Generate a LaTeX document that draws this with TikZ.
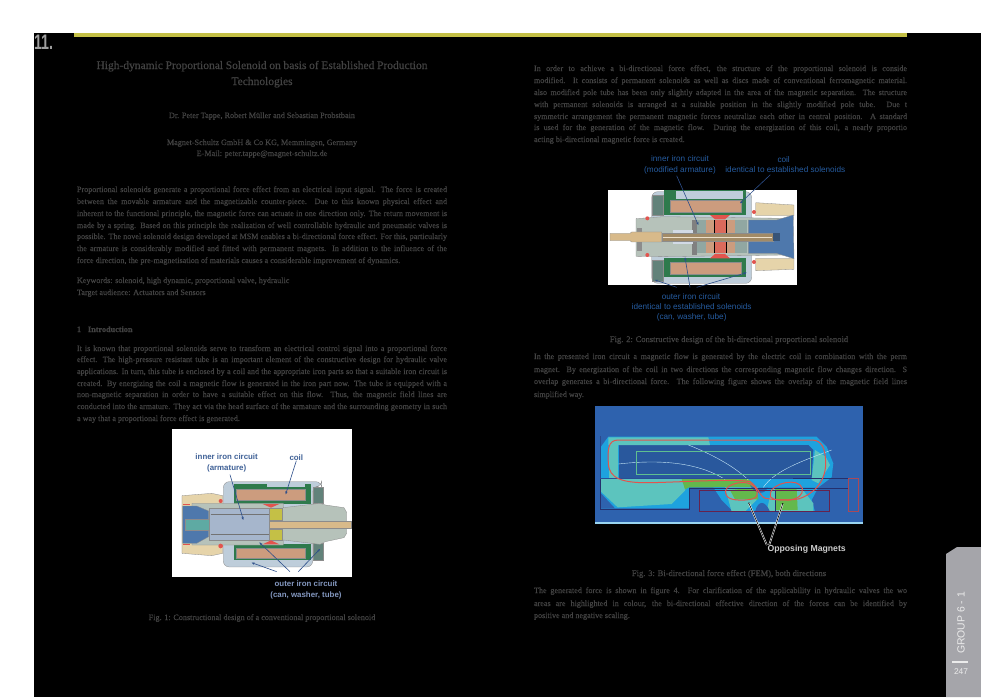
\documentclass[tikz,border=0pt]{standalone}
\usepackage{tikz}
\usepackage{xcolor}
\usepackage{fontspec}
\setmainfont[FakeBold=0.45]{Liberation Serif}
\setsansfont{Liberation Sans}
\usetikzlibrary{positioning,arrows.meta}

\definecolor{inkColor}{RGB}{66,66,66}
\definecolor{barColor}{RGB}{196,192,70}
\definecolor{tabColor}{RGB}{165,165,170}
\definecolor{markColor}{RGB}{158,158,158}
\definecolor{labelColor}{RGB}{62,96,150}
\definecolor{outerColor}{RGB}{132,152,192}
\definecolor{leaderColor}{RGB}{44,78,138}
\definecolor{blueColor}{RGB}{38,92,160}
\definecolor{canColor}{RGB}{190,205,218}
\definecolor{washerColor}{RGB}{98,130,122}
\definecolor{holderColor}{RGB}{46,122,76}
\definecolor{copperColor}{RGB}{204,156,126}
\definecolor{tubeColor}{RGB}{182,194,186}
\definecolor{shaftColor}{RGB}{216,186,138}
\definecolor{armatureColor}{RGB}{166,182,204}
\definecolor{brassColor}{RGB}{230,212,170}
\definecolor{plugColor}{RGB}{78,120,172}
\definecolor{sealColor}{RGB}{226,84,78}
\definecolor{fieldColor}{RGB}{46,98,174}
\definecolor{cyanColor}{RGB}{30,162,222}
\definecolor{tealColor}{RGB}{92,196,190}
\definecolor{greenColor}{RGB}{100,184,76}
\definecolor{navyColor}{RGB}{36,48,110}

\tikzset{
  bodytext/.style={text=inkColor,anchor=base west,inner sep=0pt,outer sep=0pt,font=\fontsize{8.1}{9}\selectfont},
  midtext/.style={text=inkColor,anchor=base,inner sep=0pt,outer sep=0pt,font=\fontsize{8.15}{9}\selectfont},
  captext/.style={text=inkColor,anchor=base,inner sep=0pt,outer sep=0pt,font=\fontsize{8.5}{9}\selectfont},
  titletext/.style={text=inkColor,anchor=base,inner sep=0pt,outer sep=0pt,font=\fontsize{11.5}{13}\selectfont},
  fig1label/.style={text=labelColor,anchor=base,inner sep=0pt,outer sep=0pt,font=\sffamily\bfseries\fontsize{7.9}{9}\selectfont},
  fig1outer/.style={text=outerColor,anchor=base,inner sep=0pt,outer sep=0pt,font=\sffamily\bfseries\fontsize{7.9}{9}\selectfont},
  fig2label/.style={text=blueColor,anchor=base,inner sep=0pt,outer sep=0pt,font=\sffamily\fontsize{8.2}{9}\selectfont},
  leader/.style={draw=leaderColor,line width=0.6pt,-{Stealth[length=3pt,width=2.4pt]}},
  partfill/.style={line width=0.3pt,draw=black!45},
  magline/.style={draw=white,double=black,line width=0.5pt,double distance=0.6pt},
}
% one justified text line
\newcommand{\bodyline}[4]{\node[bodytext] (#1) at (77,#2) {\makebox[#3][s]{#4}};}
\newcommand{\colline}[4]{\node[bodytext] (#1) at (534,#2) {\makebox[#3][s]{#4}};}

\begin{document}
\begin{tikzpicture}[x=1pt,y=-1pt]
\path[use as bounding box,fill=white] (0,0) rectangle (981,697);
\path[fill=black] (34,33) rectangle (981,697);
\path[fill=barColor] (74,33) rectangle (907,37);
\path[fill=tabColor] (946,697) -- (946,554) -- (957,547) -- (981,547) -- (981,697) -- cycle;
\path[draw=black!8,line width=1.2pt] (952,662) -- (968,662);

\node[text=markColor,anchor=base west,inner sep=0pt,outer sep=0pt,font=\sffamily\bfseries\fontsize{21}{22}\selectfont] (chapter) at (34,49) {\scalebox{0.68}[1]{11.}};
\node[text=black!8,rotate=90,anchor=center,inner sep=0pt,outer sep=0pt,font=\sffamily\fontsize{10.4}{11}\selectfont] (group) at (961,623) {GROUP 6 - 1};
\node[text=black!8,anchor=base,inner sep=0pt,outer sep=0pt,font=\sffamily\fontsize{8.4}{10}\selectfont] (pageno) at (961,674) {247};

% left column
\node[titletext] (title1) at (262,69) {\makebox[331pt][s]{High-dynamic Proportional Solenoid on basis of Established Production}};
\node[titletext] (title2) at (262,85) {Technologies};
\node[midtext] (authors) at (262,118) {Dr. Peter Tappe, Robert Müller and Sebastian Probstbain};
\node[midtext] (company) at (262,145) {Magnet-Schultz GmbH \& Co KG, Memmingen, Germany};
\node[midtext] (email) at (262,156) {E-Mail: peter.tappe@magnet-schultz.de};

\bodyline{abs1}{192}{370pt}{Proportional solenoids generate a proportional force effect from an electrical input signal. The force is created}
\bodyline{abs2}{204}{370pt}{between the movable armature and the magnetizable counter-piece. Due to this known physical effect and}
\bodyline{abs3}{216}{370pt}{inherent to the functional principle, the magnetic force can actuate in one direction only. The return movement is}
\bodyline{abs4}{228}{370pt}{made by a spring. Based on this principle the realization of well controllable hydraulic and pneumatic valves is}
\bodyline{abs5}{239}{370pt}{possible. The novel solenoid design developed at MSM enables a bi-directional force effect. For this, particularly}
\bodyline{abs6}{251}{370pt}{the armature is considerably modified and fitted with permanent magnets. In addition to the influence of the}
\node[bodytext] (abs7) at (77,263) {force direction, the pre-magnetisation of materials causes a considerable improvement of dynamics.};
\node[bodytext] (keywords) at (77,283) {Keywords: solenoid, high dynamic, proportional valve, hydraulic};
\node[bodytext] (audience) at (77,295) {Target audience: Actuators and Sensors};

\node[bodytext,font=\bfseries\fontsize{8.2}{9}\selectfont] (intronum) at (77,332) {1};
\node[bodytext,font=\bfseries\fontsize{8.2}{9}\selectfont] (intro) at (88,332) {Introduction};
\bodyline{int1}{351}{370pt}{It is known that proportional solenoids serve to transform an electrical control signal into a proportional force}
\bodyline{int2}{362}{370pt}{effect. The high-pressure resistant tube is an important element of the constructive design for hydraulic valve}
\bodyline{int3}{374}{370pt}{applications. In turn, this tube is enclosed by a coil and the appropriate iron parts so that a suitable iron circuit is}
\bodyline{int4}{386}{370pt}{created. By energizing the coil a magnetic flow is generated in the iron part now. The tube is equipped with a}
\bodyline{int5}{397}{370pt}{non-magnetic separation in order to have a suitable effect on this flow. Thus, the magnetic field lines are}
\bodyline{int6}{409}{370pt}{conducted into the armature. They act via the head surface of the armature and the surrounding geometry in such}
\node[bodytext] (int7) at (77,421) {a way that a proportional force effect is generated.};
\node[midtext] (cap1) at (262,620) {Fig. 1: Constructional design of a conventional proportional solenoid};

% right column
\colline{rt1}{71}{373pt}{In order to achieve a bi-directional force effect, the structure of the proportional solenoid is conside}
\colline{rt2}{83}{373pt}{modified. It consists of permanent solenoids as well as discs made of conventional ferromagnetic material.}
\colline{rt3}{95}{373pt}{also modified pole tube has been only slightly adapted in the area of the magnetic separation. The structure}
\colline{rt4}{107}{373pt}{with permanent solenoids is arranged at a suitable position in the slightly modified pole tube. Due t}
\colline{rt5}{119}{373pt}{symmetric arrangement the permanent magnetic forces neutralize each other in central position. A standard}
\colline{rt6}{130}{373pt}{is used for the generation of the magnetic flow. During the energization of this coil, a nearly proportio}
\node[bodytext] (rt7) at (534,142) {acting bi-directional magnetic force is created.};
\node[captext] (cap2) at (729,342) {Fig. 2: Constructive design of the bi-directional proportional solenoid};
\colline{rm1}{359}{373pt}{In the presented iron circuit a magnetic flow is generated by the electric coil in combination with the perm}
\colline{rm2}{372}{373pt}{magnet. By energization of the coil in two directions the corresponding magnetic flow changes direction. S}
\colline{rm3}{384}{373pt}{overlap generates a bi-directional force. The following figure shows the overlap of the magnetic field lines}
\node[bodytext] (rm4) at (534,397) {simplified way.};
\node[captext] (cap3) at (729,576) {Fig. 3: Bi-directional force effect (FEM), both directions};
\colline{rb1}{593}{373pt}{The generated force is shown in figure 4. For clarification of the applicability in hydraulic valves the wo}
\colline{rb2}{606}{373pt}{areas are highlighted in colour, the bi-directional effective direction of the forces can be identified by}
\node[bodytext] (rb3) at (534,618) {positive and negative scaling.};

% figure 1
\begin{scope}[shift={(140,425)},x=0.3333pt,y=-0.3333pt]
\path[fill=white] (96,12) rectangle (636,455);
\path[fill=brassColor,partfill] (126,212) -- (215,205) -- (248,212) -- (248,385) -- (215,392) -- (126,385) -- cycle;
\path[fill=canColor,partfill,rounded corners=6pt] (250,170) -- (545,170) -- (545,185) -- (518,185) -- (518,426) -- (250,426) -- cycle;
\path[fill=washerColor,partfill] (518,185) rectangle (548,235);
\path[fill=washerColor,partfill] (518,355) rectangle (548,405);
\path[fill=holderColor] (281,178) rectangle (512,236);
\path[fill=holderColor] (281,358) rectangle (512,405);
\path[fill=canColor] (380,170) rectangle (495,186);
\path[fill=copperColor,partfill] (288,193) rectangle (495,226);
\path[fill=copperColor,partfill] (288,368) rectangle (495,400);
\path[fill=tubeColor,partfill] (156,235) -- (430,235) -- (430,248) -- (540,235) -- (556,240) -- (612,248) -- (620,262) -- (620,325) -- (612,338) -- (556,350) -- (540,358) -- (430,345) -- (430,360) -- (156,360) -- cycle;
\path[fill=armatureColor,partfill] (206,248) rectangle (386,345);
\path[draw=black!55,line width=0.3pt] (212,268) -- (386,268);
\path[draw=black!55,line width=0.3pt] (212,327) -- (386,327);
\path[fill=shaftColor,partfill] (386,287) rectangle (632,310);
\path[fill=barColor,partfill] (386,250) rectangle (426,285);
\path[fill=barColor,partfill] (386,312) rectangle (426,345);
\path[fill=plugColor,partfill] (128,243) -- (170,243) -- (206,258) -- (206,335) -- (170,355) -- (128,355) -- cycle;
\path[fill=tealColor!60!washerColor,partfill] (136,283) rectangle (206,315);
\path[fill=sealColor] (368,237) -- (418,237) -- (393,248) -- cycle;
\path[fill=sealColor] (368,358) -- (418,358) -- (393,346) -- cycle;
\path[fill=sealColor] (130,236) rectangle (150,241);
\path[fill=sealColor] (130,356) rectangle (150,361);
\path[fill=sealColor] (242,363) circle (7);
\path[fill=sealColor] (242,228) circle (6);
\node[fig1label] (armaturelabel) at (260,104) {inner iron circuit};
\node[fig1label] (armaturelabel2) at (260,136) {(armature)};
\node[fig1label] (coillabel) at (469,107) {coil};
\node[fig1outer] (outerlabel) at (498,486) {outer iron circuit};
\node[fig1outer] (outerlabel2) at (498,518) {(can, washer, tube)};
\coordinate (armaturetip) at (310,285);
\coordinate (coiltip) at (437,208);
\coordinate (outerstart) at (450,440);
\coordinate (cantip) at (335,413);
\coordinate (tubetip) at (358,352);
\coordinate (washertip) at (540,372);
\draw[leader] (armaturelabel2.south) ++(10,8) -- (armaturetip);
\draw[leader] (coillabel.south) -- (coiltip);
\draw[leader] (outerstart) -- (tubetip);
\draw[leader] (410,440) -- (cantip);
\draw[leader] (475,440) -- (washertip);
\end{scope}

% figure 2
\begin{scope}[shift={(590,150)},x=0.3333pt,y=-0.3333pt]
\path[fill=white] (54,120) rectangle (621,405);
\path[fill=brassColor,partfill] (497,158) -- (612,165) -- (612,197) -- (497,197) -- cycle;
\path[fill=brassColor,partfill] (497,325) -- (612,325) -- (612,358) -- (497,362) -- cycle;
\path[fill=canColor,partfill,rounded corners=6pt] (185,125) -- (485,125) -- (485,400) -- (185,400) -- cycle;
\path[fill=holderColor] (222,120) rectangle (468,195);
\path[fill=holderColor] (222,325) rectangle (468,382);
\path[fill=canColor] (258,122) rectangle (460,148);
\path[fill=washerColor,partfill] (185,134) rectangle (220,194);
\path[fill=washerColor,partfill] (185,330) rectangle (220,392);
\path[fill=copperColor,partfill] (240,150) rectangle (452,185);
\path[fill=copperColor,partfill] (240,337) rectangle (452,372);
\path[fill=tubeColor,partfill] (138,206) -- (220,200) -- (585,205) -- (585,315) -- (220,320) -- (138,319) -- cycle;
\path[fill=black!45] (140,234) rectangle (155,304);
\path[fill=plugColor,partfill] (475,210) -- (560,210) -- (610,195) -- (612,326) -- (560,310) -- (475,310) -- cycle;
\path[fill=black!50] (305,209) rectangle (320,314);
\path[fill=washerColor!70!white] (320,210) rectangle (348,310);
\path[fill=copperColor] (348,210) rectangle (373,310);
\path[fill=sealColor!70!copperColor] (373,210) rectangle (408,310);
\path[fill=copperColor] (408,210) rectangle (435,310);
\path[fill=washerColor!70!white] (435,210) rectangle (472,310);
\path[draw=black,line width=0.4pt] (373,210) -- (373,310);
\path[draw=black,line width=0.4pt] (408,210) -- (408,310);
\path[fill=armatureColor!50!white] (250,239) rectangle (310,282);
\path[fill=shaftColor,partfill] (60,250) -- (120,250) -- (125,246) -- (215,246) -- (215,276) -- (125,276) -- (120,272) -- (60,272) -- cycle;
\path[fill=shaftColor!75!black,partfill] (215,248) rectangle (548,274);
\path[draw=shaftColor!45!white,line width=0.7pt] (218,261) -- (545,261);
\path[fill=plugColor!70!black] (548,248) rectangle (570,274);
\path[fill=sealColor] (360,195) -- (420,195) -- (405,208) -- (375,208) -- cycle;
\path[fill=sealColor] (360,325) -- (420,325) -- (405,312) -- (375,312) -- cycle;
\path[fill=sealColor] (172,205) circle (6);
\path[fill=sealColor] (172,315) circle (6);
\path[fill=sealColor] (492,186) circle (6);
\path[fill=sealColor] (492,336) circle (6);
\node[fig2label] (innerlabel) at (270,35) {inner iron circuit};
\node[fig2label] (innerlabel2) at (270,66) {(modified armature)};
\node[fig2label] (coilnote) at (581,38) {coil};
\node[fig2label] (coilnote2) at (586,68) {identical to established solenoids};
\node[fig2label] (outernote) at (303,448) {outer iron circuit};
\node[fig2label] (outernote2) at (305,478) {identical to established solenoids};
\node[fig2label] (outernote3) at (305,508) {(can, washer, tube)};
\coordinate (innertip) at (325,225);
\coordinate (coilnotetip) at (450,160);
\coordinate (outernotestart) at (300,412);
\coordinate (polarrow) at (285,322);
\coordinate (leftrow) at (195,390);
\coordinate (rightrow) at (470,368);
\draw[leader] (innerlabel2.south) ++(-10,6) -- (innertip);
\draw[leader] (coilnote2.south) ++(-45,6) -- (coilnotetip);
\draw[leader] (outernotestart) -- (polarrow);
\draw[leader] (260,412) -- (leftrow);
\draw[leader] (320,412) -- (rightrow);
\end{scope}

% figure 3
\begin{scope}[shift={(585,400)},x=0.3333pt,y=-0.3333pt]
\path[fill=fieldColor] (30,18) rectangle (833,372);
\path[fill=cyanColor!45!white] (30,367) rectangle (833,372);
\path[fill=cyanColor] (48,237) -- (48,140) -- (70,110) -- (695,110) -- (725,140) -- (745,190) -- (740,232) -- (700,262) -- (312,262) -- (312,325) -- (48,325) -- cycle;
\path[fill=fieldColor!90!black] (102,135) -- (670,135) -- (685,150) -- (680,236) -- (102,236) -- cycle;
\path[fill=tealColor] (70,112) -- (370,112) -- (375,135) -- (70,135) -- cycle;
\path[fill=tealColor] (72,135) rectangle (100,236);
\path[fill=tealColor] (48,237) -- (310,237) -- (300,272) -- (260,312) -- (98,322) -- (48,275) -- cycle;
\path[fill=fieldColor] (48,280) -- (48,325) -- (90,325) -- cycle;
\path[fill=tealColor] (690,150) -- (722,170) -- (735,195) -- (700,250) -- (680,240) -- cycle;
\path[fill=greenColor] (290,237) -- (490,237) -- (515,262) -- (312,262) -- (300,268) -- cycle;
\path[fill=cyanColor] (385,262) -- (700,262) -- (680,300) -- (690,335) -- (445,335) -- (410,300) -- cycle;
\path[fill=tealColor] (420,262) -- (520,262) -- (515,300) -- (480,335) -- (440,335) -- cycle;
\path[fill=tealColor] (545,335) -- (560,265) -- (650,265) -- (685,310) -- (685,335) -- cycle;
\path[fill=fieldColor] (510,335) .. controls (520,300) and (540,300) .. (555,335) -- cycle;
\path[fill=greenColor] (570,265) -- (635,265) -- (638,330) -- (572,330) -- cycle;
\path[fill=greenColor] (435,270) -- (515,262) -- (520,298) -- (450,298) -- cycle;
\path[fill=fieldColor] (495,255) .. controls (515,270) and (530,270) .. (548,262) .. controls (540,285) and (510,285) .. (495,255) -- cycle;
\path[draw=white!75!cyanColor,line width=0.4pt] (100,192) .. controls (250,175) and (350,195) .. (420,238);
\path[draw=white!75!cyanColor,line width=0.4pt] (310,135) .. controls (400,170) and (460,210) .. (490,240);
\path[draw=white!75!cyanColor,line width=0.4pt] (535,262) .. controls (570,210) and (660,180) .. (740,150);
\path[draw=tealColor!60!greenColor,line width=0.5pt] (155,153) rectangle (677,223);
\path[draw=navyColor,line width=0.55pt] (46,235) -- (46,328) -- (312,328) -- (312,264) -- (790,264) -- (790,235) -- (625,235);
\path[draw=navyColor!50!fieldColor,line width=0.4pt] (46,235) -- (46,108);
\path[draw=navyColor!40!fieldColor,line width=0.4pt] (46,235) -- (625,235);
\path[draw=navyColor!70!red,line width=0.55pt] (342,270) rectangle (732,335);
\path[draw=navyColor,line width=0.4pt] (570,270) -- (570,335);
\path[draw=sealColor!70!navyColor,line width=0.55pt] (790,235) rectangle (820,335);
\path[draw=sealColor,line width=1pt] (70,190) .. controls (68,150) and (68,120) .. (100,120) -- (680,120) .. controls (710,120) and (722,145) .. (722,190) .. controls (722,250) and (680,285) .. (640,297) .. controls (610,302) and (570,300) .. (542,295) .. controls (525,292) and (520,260) .. (495,245) .. controls (450,236) and (320,245) .. (200,248) .. controls (110,250) and (72,235) .. (70,190) -- cycle;
\path[draw=sealColor,line width=1pt] (422,272) .. controls (425,250) and (490,235) .. (510,262) .. controls (525,285) and (518,298) .. (480,300) .. controls (440,302) and (420,295) .. (422,272) -- cycle;
\path[draw=sealColor,line width=1pt] (556,280) .. controls (560,250) and (640,230) .. (652,265) .. controls (655,285) and (640,297) .. (610,300) .. controls (570,300) and (553,300) .. (556,280) -- cycle;
\node[text=black!20,anchor=base,inner sep=0pt,outer sep=0pt,font=\sffamily\bfseries\fontsize{8.7}{10}\selectfont] (magnets) at (665,455) {Opposing Magnets};
\coordinate (magnetleft) at (492,310);
\coordinate (magnetright) at (593,312);
\path[fill=black] (magnetleft) circle (3);
\path[fill=black] (magnetright) circle (3);
\draw[magline] (magnets.north west) ++(-2,-1) -- (magnetleft);
\draw[magline] (magnets.north west) ++(5,-1) -- (magnetright);
\end{scope}
\end{tikzpicture}
\end{document}
